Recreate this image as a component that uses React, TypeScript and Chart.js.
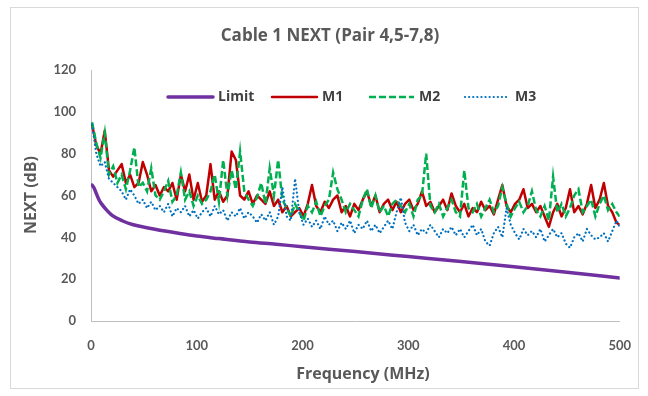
import React, { useEffect, useRef } from "react";
import { Chart, registerables } from "chart.js";

Chart.register(...registerables);

const TITLE = "Cable 1 NEXT (Pair 4,5-7,8)";
const X_TITLE = "Frequency (MHz)";
const Y_TITLE = "NEXT (dB)";

const freqs = [
  1, 5, 9, 13, 17, 21, 25, 29, 33, 37, 41, 45, 49, 53, 57, 61, 65, 69, 73, 77,
  81, 85, 89, 93, 97, 101, 105, 109, 113, 117, 121, 125, 129, 133, 137, 141, 145, 149, 153, 157,
  161, 165, 169, 173, 177, 181, 185, 189, 193, 197, 201, 205, 209, 213, 217, 221, 225, 229, 233, 237,
  241, 245, 249, 253, 257, 261, 265, 269, 273, 277, 281, 285, 289, 293, 297, 301, 305, 309, 313, 317,
  321, 325, 329, 333, 337, 341, 345, 349, 353, 357, 361, 365, 369, 373, 377, 381, 385, 389, 393, 397,
  401, 405, 409, 413, 417, 421, 425, 429, 433, 437, 441, 445, 449, 453, 457, 461, 465, 469, 473, 477,
  481, 485, 489, 493, 497, 500,
];

const m1 = [
  94, 84, 80, 91, 72, 69, 72, 75, 66, 70, 64, 66, 76, 70, 62, 65, 60, 64, 62, 66,
  58, 70, 62, 70, 58, 66, 57, 60, 75, 58, 62, 57, 60, 81, 77, 60, 58, 62, 56, 60,
  58, 56, 62, 55, 58, 52, 55, 50, 52, 54, 50, 56, 65, 55, 52, 57, 54, 58, 60, 52,
  55, 50, 56, 53, 58, 62, 55, 60, 52, 56, 58, 53, 57, 52, 56, 58, 53, 56, 62, 55,
  57, 52, 55, 58, 53, 61, 55, 52, 56, 50, 54, 52, 57, 53, 55, 51, 58, 65, 55, 52,
  56, 58, 63, 54, 56, 52, 55, 50, 45, 52, 56, 50, 54, 63, 52, 55, 51, 56, 65, 54,
  58, 66, 55, 52, 47, 46,
];

const m2 = [
  95, 85, 78, 90, 70, 74, 66, 70, 63, 72, 83, 64, 66, 62, 73, 60, 58, 62, 67, 57,
  60, 71, 58, 62, 55, 60, 56, 58, 62, 70, 57, 77, 60, 72, 63, 81, 62, 58, 55, 59,
  66, 56, 73, 60, 77, 58, 54, 50, 56, 52, 48, 55, 52, 57, 50, 55, 58, 71, 63, 58,
  52, 56, 53, 50, 58, 63, 54, 60, 52, 55, 50, 56, 58, 55, 52, 56, 50, 58, 60, 80,
  55, 52, 56, 50, 54, 58, 52, 50, 72, 54, 52, 56, 50, 54, 58, 52, 55, 64, 56, 50,
  54, 57, 52, 55, 62, 53, 50, 55, 48, 69, 52, 56, 50, 54, 60, 63, 52, 55, 58, 50,
  56, 60, 53, 56, 52, 50,
];

const m3 = [
  94, 80, 74, 76, 68, 66, 64, 62, 58, 63, 60, 56, 58, 54, 57, 53, 55, 52, 56, 50,
  54, 52, 55, 50, 53, 49, 52, 54, 50, 55, 51, 53, 48, 52, 50, 54, 49, 52, 50, 47,
  51, 48, 52, 46, 50, 64, 50, 48, 68, 52, 46, 49, 45, 48, 44, 50, 46, 48, 43, 47,
  44, 48, 42, 46, 44, 48, 43, 46, 42, 45, 48, 44, 52, 59, 47, 43, 46, 41, 44, 42,
  46, 43, 40, 44, 42, 45, 41, 44, 40, 43, 46, 41, 44, 38, 36, 42, 45, 40, 54, 46,
  42, 39, 44, 41, 43, 40, 44, 38, 41, 44, 40, 42, 37, 35, 40, 42, 38, 44, 41, 39,
  40, 42, 38, 43, 48, 45,
];

const limitFreqs = [1, 3, 5, 8, 10, 14, 20, 30, 40, 53, 70, 84, 100, 121, 150, 175, 200, 250, 300, 350, 400, 450, 500];
const limitVals = [65, 63.5, 61, 57.5, 56, 53.5, 50.5, 47.8, 46, 44.6, 43, 41.8, 40.6, 39.4, 37.8, 36.7, 35.5, 33.2, 30.8, 28.4, 25.9, 23.3, 20.6];

const xTicks = [0, 100, 200, 300, 400, 500];
const yTicks = [0, 20, 40, 60, 80, 100, 120];

const COLORS = { limit: "#7030A0", m1: "#C00000", m2: "#00B050", m3: "#0070C0" };
const FONT = "Lato, 'Open Sans', sans-serif";
const TFONT = "'Open Sans', Lato, sans-serif";

const toPts = (xs: number[], ys: number[]) => xs.map((x, i) => ({ x, y: ys[i] }));

const legendItems = [
  { label: "Limit", color: COLORS.limit, width: 3.5, dash: [] as number[], cap: "round" },
  { label: "M1", color: COLORS.m1, width: 2.5, dash: [] as number[], cap: "round" },
  { label: "M2", color: COLORS.m2, width: 2.5, dash: [7, 3], cap: "butt" },
  { label: "M3", color: COLORS.m3, width: 2.2, dash: [0.1, 4], cap: "round" },
];

const overlay = {
  id: "overlay",
  afterDraw(chart: any) {
    const ctx = chart.ctx as CanvasRenderingContext2D;
    ctx.save();
    ctx.fillStyle = "#595959";
    ctx.textBaseline = "middle";
    ctx.textAlign = "center";
    ctx.font = `bold 17px ${TFONT}`;
    ctx.fillText(TITLE, 330, 36);
    ctx.font = `bold 16px ${TFONT}`;
    ctx.fillText(X_TITLE, 363, 374);
    ctx.save();
    ctx.translate(31, 195);
    ctx.rotate(-Math.PI / 2);
    ctx.font = `bold 16px ${TFONT}`;
    ctx.fillText(Y_TITLE, 0, 0);
    ctx.restore();

    // legend
    const starts = [168, 272, 369, 465];
    const y = 97;
    legendItems.forEach((it, i) => {
      const x0 = starts[i];
      ctx.beginPath();
      ctx.strokeStyle = it.color;
      ctx.lineWidth = it.width;
      ctx.lineCap = it.cap as CanvasLineCap;
      ctx.setLineDash(it.dash);
      ctx.moveTo(x0, y);
      ctx.lineTo(x0 + 45, y);
      ctx.stroke();
      ctx.setLineDash([]);
      ctx.fillStyle = "#404040";
      ctx.textAlign = "left";
      ctx.font = `bold 14px ${TFONT}`;
      ctx.fillText(it.label, x0 + 50, y);
    });
    ctx.restore();
  },
};

export default function App() {
  const ref = useRef<HTMLCanvasElement | null>(null);
  useEffect(() => {
    if (!ref.current) return;
    const chart = new Chart(ref.current, {
      type: "line",
      data: {
        datasets: [
          {
            label: "Limit",
            data: toPts(limitFreqs, limitVals),
            borderColor: COLORS.limit,
            borderWidth: 3.5,
            pointRadius: 0,
            cubicInterpolationMode: "monotone",
            borderCapStyle: "round",
            order: 3,
          },
          {
            label: "M1",
            data: toPts(freqs, m1),
            borderColor: COLORS.m1,
            borderWidth: 2.5,
            pointRadius: 0,
            tension: 0,
            borderJoinStyle: "round",
            order: 2,
          },
          {
            label: "M2",
            data: toPts(freqs, m2),
            borderColor: COLORS.m2,
            borderWidth: 2.5,
            borderDash: [7, 3],
            pointRadius: 0,
            tension: 0,
            order: 1,
          },
          {
            label: "M3",
            data: toPts(freqs, m3),
            borderColor: COLORS.m3,
            borderWidth: 2.2,
            borderDash: [0.1, 4],
            borderCapStyle: "round",
            pointRadius: 0,
            tension: 0,
            order: 0,
          },
        ],
      },
      options: {
        animation: false,
        responsive: false,
        maintainAspectRatio: false,
        layout: { padding: { left: 0, top: 70, right: 26, bottom: 0 } },
        plugins: { legend: { display: false }, tooltip: { enabled: false }, title: { display: false } },
        scales: {
          x: {
            type: "linear",
            min: 0,
            max: 500,
            afterFit: (s: any) => { s.height = 75; },
            afterBuildTicks: (s: any) => { s.ticks = xTicks.map((v) => ({ value: v })); },
            grid: { display: false, drawTicks: false },
            border: { display: true, color: "#BFBFBF", width: 1 },
            ticks: { color: "#595959", font: { family: FONT, size: 13, weight: "bold" }, padding: 17, maxRotation: 0 },
          },
          y: {
            type: "linear",
            min: 0,
            max: 120,
            afterFit: (s: any) => { s.width = 91; },
            afterBuildTicks: (s: any) => { s.ticks = yTicks.map((v) => ({ value: v })); },
            grid: { display: false, drawTicks: false },
            border: { display: true, color: "#BFBFBF", width: 1 },
            ticks: { color: "#595959", font: { family: FONT, size: 13, weight: "bold" }, padding: 15 },
          },
        },
      },
      plugins: [overlay],
    } as any);
    return () => chart.destroy();
  }, []);

  return (
    <div style={{ position: "fixed", left: 0, top: 0, width: 648, height: 396, background: "#fff" }}>
      <div
        style={{
          position: "absolute",
          left: 10,
          top: 7,
          width: 629,
          height: 382,
          border: "1px solid #D9D9D9",
          boxSizing: "border-box",
        }}
      />
      <canvas ref={ref} width={648} height={396} style={{ position: "absolute", left: 0, top: 0 }} />
    </div>
  );
}
